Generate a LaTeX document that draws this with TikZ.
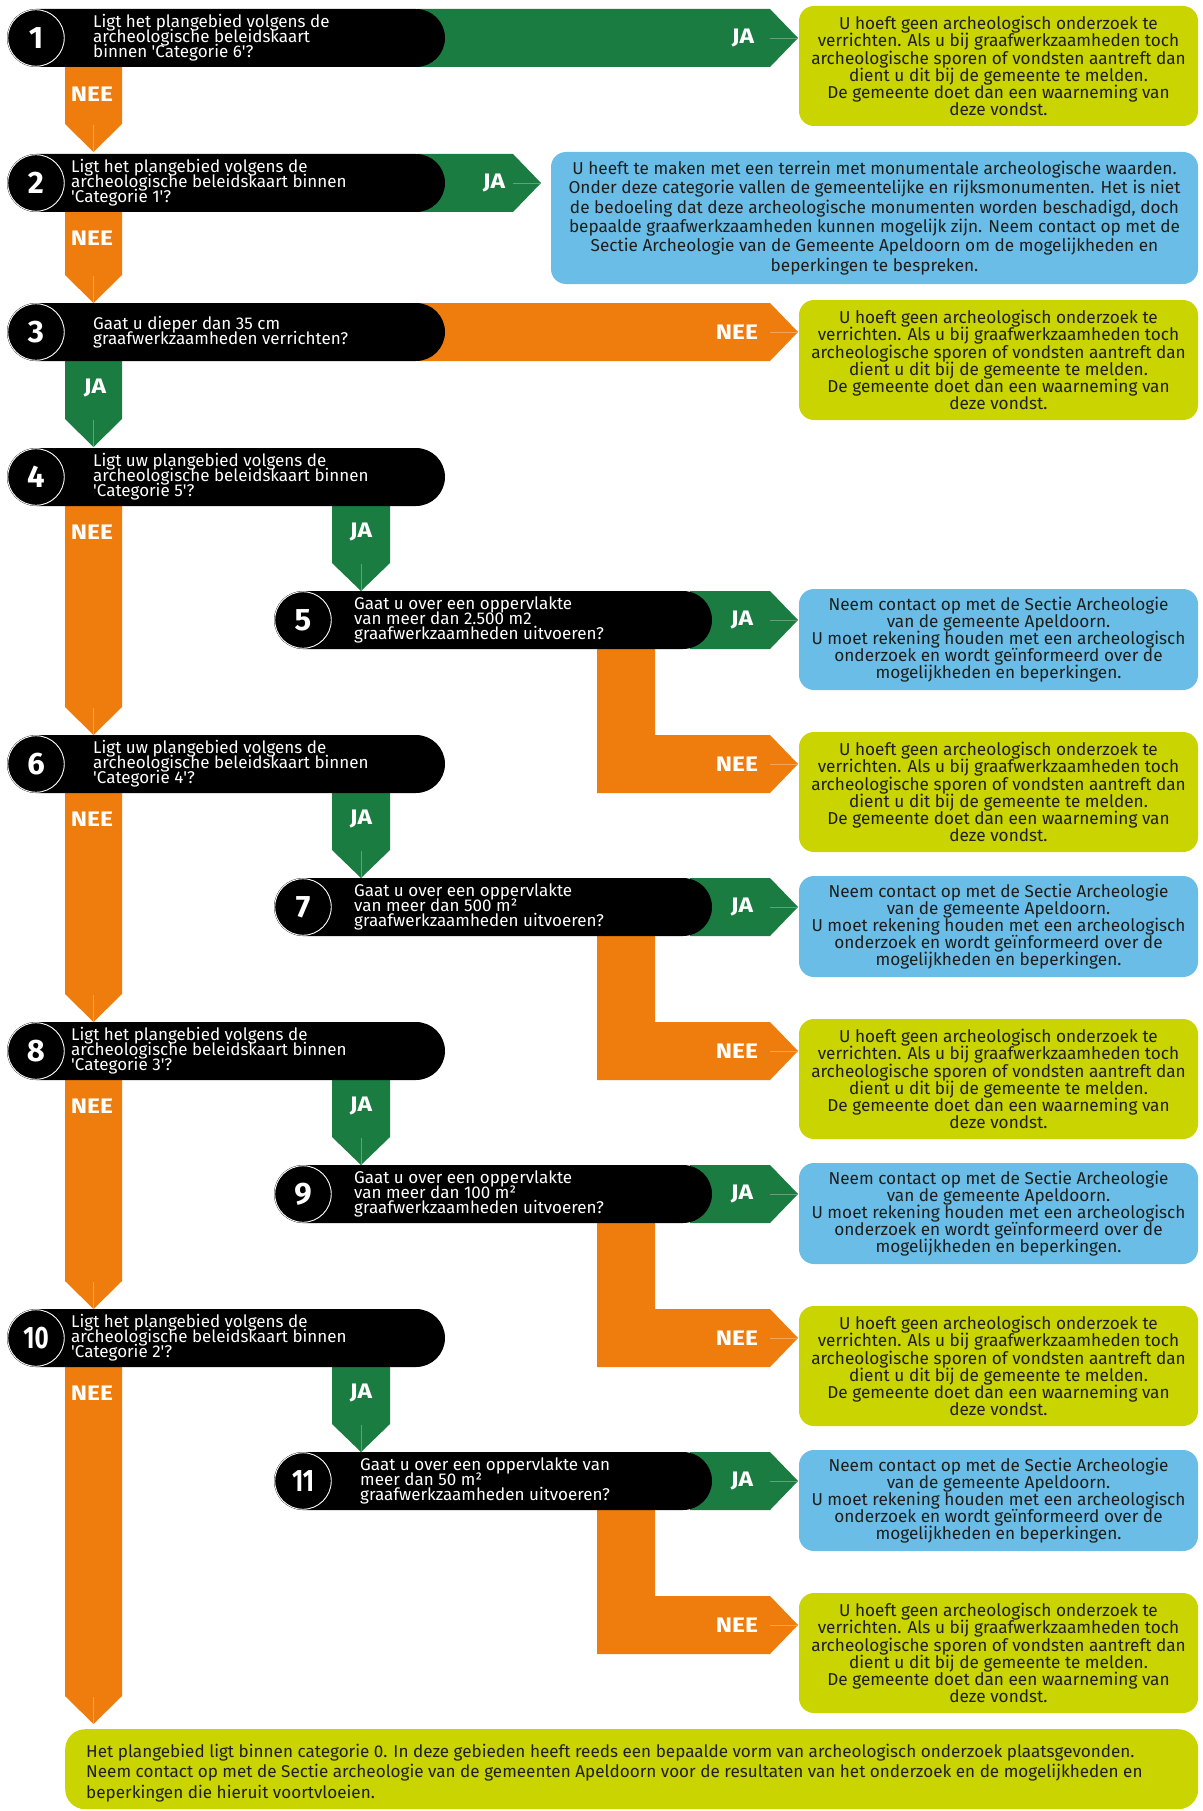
\documentclass[tikz,border=0pt]{standalone}
\usepackage{fontspec}
\setmainfont{Fira Sans}
\definecolor{cgreen}{RGB}{26,124,64}
\definecolor{corange}{RGB}{238,125,14}
\definecolor{clime}{RGB}{201,212,0}
\definecolor{cblue}{RGB}{106,189,230}
\definecolor{ctext}{RGB}{30,30,28}
\newcommand\varrow[6]{%
  \fill[#6] (#1,#3) -- (#2,#3) -- (#2,#4) -- ({(#1+#2)/2},#5) -- (#1,#4) -- cycle;
  \draw[#6!70!white, line width=0.5pt] ({(#1+#2)/2},#4+1) -- ({(#1+#2)/2},#5);}
\newcommand\harrow[6]{%
  \fill[#6] (#1,#4) -- (#2,#4) -- (#3,{(#4+#5)/2}) -- (#2,#5) -- (#1,#5) -- cycle;
  \draw[#6!70!white, line width=0.5pt] (#2,{(#4+#5)/2}) -- (#3,{(#4+#5)/2});}
\newcommand\qbar[5]{%
  \fill[black, rounded corners=29pt] (#1-29,#3) rectangle (#2,#3+58);
  \fill[black] (#1,#3) rectangle (#1+60,#3+58);
  \node[numc] (#5) at (#1,#3+29) {#4};}
\newcommand\yestxt{U hoeft geen archeologisch onderzoek te\\verrichten. Als u bij graafwerkzaamheden toch\\archeologische sporen of vondsten aantreft dan\\dient u dit bij de gemeente te melden.\\De gemeente doet dan een waarneming van\\deze vondst.}
\newcommand\contacttxt{Neem contact op met de Sectie Archeologie\\van de gemeente Apeldoorn.\\U moet rekening houden met een archeologisch\\onderzoek en wordt geïnformeerd over de\\mogelijkheden en beperkingen.}
\newcommand\q{\textquotesingle}
\newcommand\lab[1]{\scalebox{1.17}[1]{#1}}
\newcommand\tightlines{\lineskiplimit=-50pt\relax}
\tikzset{
  qtext/.style={anchor=west, align=left, text=white, inner sep=0pt,
    font=\fontsize{17}{15}\selectfont\tightlines},
  lbl/.style={text=white, inner sep=0pt, font=\bfseries\fontsize{21}{21}\selectfont},
  numc/.style={circle, fill=black, draw=white, line width=0.9pt, minimum size=56.5pt,
    inner sep=0pt, text=white, font=\bfseries\fontsize{31}{31}\selectfont},
  ybox/.style={rectangle, fill=clime, rounded corners=15pt, minimum width=399pt,
    minimum height=120pt, align=center, text=ctext, inner sep=0pt,
    font=\fontsize{17.2}{17.1}\selectfont\tightlines},
  bbox/.style={ybox, fill=cblue, minimum height=101pt},
}
\begin{document}
\begin{tikzpicture}[x=1pt,y=-1pt]
\useasboundingbox (0,0) rectangle (1202,1811);
\fill[white] (0,0) rectangle (1202,1811);
% ---------- connectors (arrow bands) ----------
\harrow{417}{770}{798}{9}{67}{cgreen}
\varrow{65}{122}{67}{124}{152}{corange}
\harrow{417}{513}{541}{154}{212}{cgreen}
\varrow{65}{122}{212}{275}{303}{corange}
\harrow{417}{770}{798}{303}{361}{corange}
\varrow{65}{122}{361}{419}{447}{cgreen}
\foreach \d in {0,287,574}{
  \varrow{65}{122}{506+\d}{707+\d}{735+\d}{corange}
}
\varrow{65}{122}{1367}{1696}{1724}{corange}
\foreach \d in {0,287,574,861}{
  \varrow{332}{390}{506+\d}{563+\d}{591+\d}{cgreen}
  \harrow{690}{770}{798}{591+\d}{649+\d}{cgreen}
  \fill[corange] (597,649+\d) -- (655,649+\d) -- (655,735+\d) -- (770,735+\d)
     -- (798,764+\d) -- (770,793+\d) -- (597,793+\d) -- cycle;
  \draw[corange!70!white, line width=0.5pt] (770,764+\d) -- (798,764+\d);
}
% ---------- question bars ----------
\qbar{36}{445}{9}{1}{c1}
\qbar{36}{445}{154}{2}{c2}
\qbar{36}{445}{303}{3}{c3}
\qbar{36}{445}{448}{4}{c4}
\qbar{303}{712}{591}{5}{c5}
\qbar{36}{445}{735}{6}{c6}
\qbar{303}{712}{878}{7}{c7}
\qbar{36}{445}{1022}{8}{c8}
\qbar{303}{712}{1165}{9}{c9}
\qbar{36}{445}{1309}{\scalebox{0.78}[1]{10}}{c10}
\qbar{303}{712}{1452}{\scalebox{0.78}[1]{11}}{c11}
% ---------- question texts ----------
\node[qtext] (q1) at (93,38) {Ligt het plangebied volgens de\\archeologische beleidskaart\\binnen \q Categorie 6\q?};
\node[qtext] (q2) at (71,183) {Ligt het plangebied volgens de\\archeologische beleidskaart binnen\\\q Categorie 1\q?};
\node[qtext] (q3) at (93,332) {Gaat u dieper dan 35 cm\\graafwerkzaamheden verrichten?};
\node[qtext] (q4) at (93,477) {Ligt uw plangebied volgens de\\archeologische beleidskaart binnen\\\q Categorie 5\q?};
\node[qtext] (q5) at (354,620) {Gaat u over een oppervlakte\\van meer dan 2.500 m2\\graafwerkzaamheden uitvoeren?};
\node[qtext] (q6) at (93,764) {Ligt uw plangebied volgens de\\archeologische beleidskaart binnen\\\q Categorie 4\q?};
\node[qtext] (q7) at (354,907) {Gaat u over een oppervlakte\\van meer dan 500 m²\\graafwerkzaamheden uitvoeren?};
\node[qtext] (q8) at (71,1051) {Ligt het plangebied volgens de\\archeologische beleidskaart binnen\\\q Categorie 3\q?};
\node[qtext] (q9) at (354,1194) {Gaat u over een oppervlakte\\van meer dan 100 m²\\graafwerkzaamheden uitvoeren?};
\node[qtext] (q10) at (71,1338) {Ligt het plangebied volgens de\\archeologische beleidskaart binnen\\\q Categorie 2\q?};
\node[qtext] (q11) at (360,1481) {Gaat u over een oppervlakte van\\meer dan 50 m²\\graafwerkzaamheden uitvoeren?};
% ---------- labels ----------
\node[lbl] at (743,38) {\lab{JA}};
\node[lbl] at (92,94) {\lab{NEE}};
\node[lbl] at (494,183) {\lab{JA}};
\node[lbl] at (92,238) {\lab{NEE}};
\node[lbl] at (737,332) {\lab{NEE}};
\node[lbl] at (95,388) {\lab{JA}};
\foreach \d in {0,287,574,861}{
  \node[lbl] at (92,532+\d) {\lab{NEE}};
  \node[lbl] at (361,532+\d) {\lab{JA}};
  \node[lbl] at (742,620+\d) {\lab{JA}};
  \node[lbl] at (737,764+\d) {\lab{NEE}};
}
% ---------- answer boxes ----------
\node[ybox] (a1) at (998.5,66) {\yestxt};
\node[bbox, minimum width=647pt, minimum height=132pt, font=\fontsize{17.2}{19.4}\selectfont\tightlines] (a2) at (874.5,218)
  {U heeft te maken met een terrein met monumentale archeologische waarden.\\Onder deze categorie vallen de gemeentelijke en rijksmonumenten. Het is niet\\de bedoeling dat deze archeologische monumenten worden beschadigd, doch\\bepaalde graafwerkzaamheden kunnen mogelijk zijn. Neem contact op met de\\Sectie Archeologie van de Gemeente Apeldoorn om de mogelijkheden en\\beperkingen te bespreken.};
\node[ybox] (a3) at (998.5,360) {\yestxt};
\node[bbox] (b5) at (998.5,639.5) {\contacttxt};
\node[ybox] (n5) at (998.5,792) {\yestxt};
\node[bbox] (b7) at (998.5,926.5) {\contacttxt};
\node[ybox] (n7) at (998.5,1079) {\yestxt};
\node[bbox] (b9) at (998.5,1213.5) {\contacttxt};
\node[ybox] (n9) at (998.5,1366) {\yestxt};
\node[bbox] (b11) at (998.5,1500.5) {\contacttxt};
\node[ybox] (n11) at (998.5,1653) {\yestxt};
\node[fill=clime, rounded corners=20pt, anchor=north west, minimum width=1133pt,
  minimum height=80pt, inner sep=0pt] (a0) at (65,1729) {};
\node[anchor=west, align=left, text=ctext, inner sep=0pt,
  font=\fontsize{17.1}{20.3}\selectfont\tightlines] (a0t) at (86,1773)
  {Het plangebied ligt binnen categorie 0. In deze gebieden heeft reeds een bepaalde vorm van archeologisch onderzoek plaatsgevonden.\\Neem contact op met de Sectie archeologie van de gemeenten Apeldoorn voor de resultaten van het onderzoek en de mogelijkheden en\\beperkingen die hieruit voortvloeien.};
\end{tikzpicture}
\end{document}
